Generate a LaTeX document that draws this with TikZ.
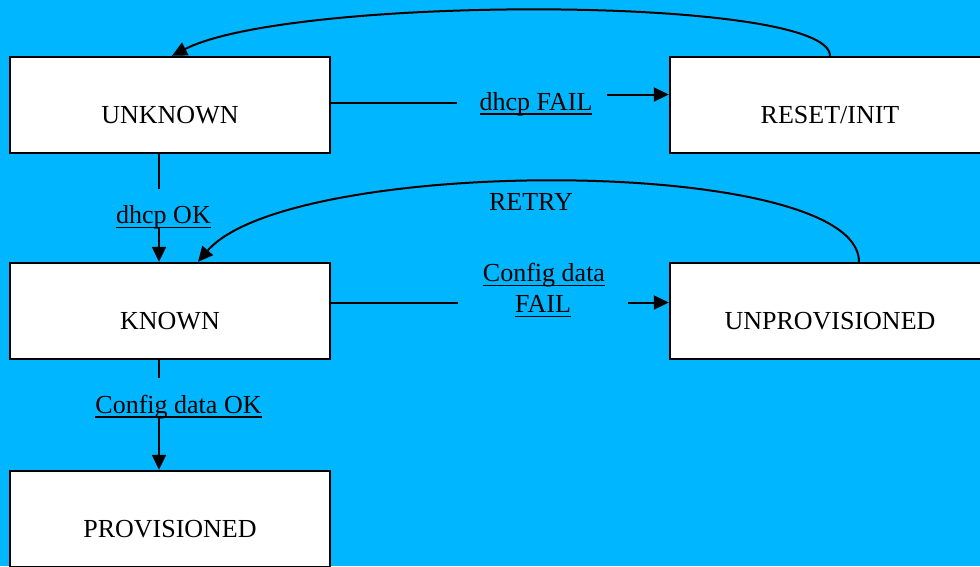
\documentclass[tikz,border=0pt]{standalone}
\usepackage{fontspec}
\setmainfont{Liberation Serif}
\usetikzlibrary{arrows.meta}
\definecolor{bgblue}{RGB}{0,183,255}
\newcommand{\ulx}[1]{\sbox0{#1}\rlap{\rule[-4.8pt]{\wd0}{1.8pt}}\usebox0}
\tikzset{
  statebox/.style={draw=black, line width=2.4pt, fill=white, rectangle,
    minimum width=320pt, minimum height=96pt, inner sep=0pt,
    text height=36pt, text depth=0pt, font=\fontsize{26}{31}\selectfont},
  edgelabel/.style={anchor=base, inner sep=0pt, font=\fontsize{26}{31}\selectfont},
  conn/.style={draw=black, line width=2pt},
  arr/.style={-{Triangle[length=15pt,width=14pt]}}
}
\begin{document}
\begin{tikzpicture}[x=1pt,y=-1pt]
\useasboundingbox (0,0) rectangle (980,566);
\clip (0,0) rectangle (980,566);
\fill[bgblue] (0,0) rectangle (980,566);

\node[statebox] (unknown) at (170,105) {UNKNOWN};
\node[statebox] (reset) at (830,105) {RESET/INIT};
\node[statebox] (known) at (170,311) {KNOWN};
\node[statebox] (unprov) at (830,311) {UNPROVISIONED};
\node[statebox] (prov) at (170,519) {PROVISIONED};

\node[edgelabel] (dhcpfail) at (536,110) {\ulx{dhcp FAIL}};
\node[edgelabel] (dhcpok) at (163.5,223.5) {\ulx{dhcp OK}};
\node[edgelabel] (cfgfailA) at (544,281.5) {\ulx{Config data}};
\node[edgelabel] (cfgfailB) at (543,312.5) {\ulx{FAIL}};
\node[edgelabel] (cfgok) at (178.5,413) {\ulx{Config data OK}};
\node[edgelabel] (retry) at (531,210) {RETRY};

\coordinate (dfA) at (457,103);
\coordinate (dfB) at (607,94.5);
\coordinate (dokA) at (159,188.5);
\coordinate (dokB) at (159,228);
\coordinate (cfA) at (458,302.5);
\coordinate (cfB) at (628,302.5);
\coordinate (cokA) at (159,378);
\coordinate (cokB) at (159,417);

\draw[conn] (unknown.east |- dfA) -- (dfA);
\draw[conn,arr] (dfB) -- (reset.west |- dfB);
\draw[conn] (unknown.south -| dokA) -- (dokA);
\draw[conn,arr] (dokB) -- (known.north -| dokB);
\draw[conn] (known.east |- cfA) -- (cfA);
\draw[conn,arr] (cfB) -- (unprov.west |- cfB);
\draw[conn] (known.south -| cokA) -- (cokA);
\draw[conn,arr] (cokB) -- (prov.north -| cokB);

\draw[conn,arr] (reset.north) .. controls (830,-5) and (290,-5) .. ([xshift=2pt]unknown.north);
\draw[conn,arr] ([xshift=29pt]unprov.north) .. controls (859,155) and (290,155) .. ([xshift=28pt]known.north);
\end{tikzpicture}
\end{document}
